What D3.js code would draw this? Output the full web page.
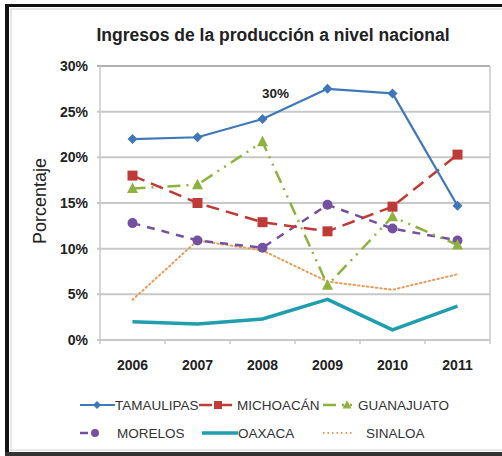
<!DOCTYPE html>
<html>
<head>
<meta charset="utf-8">
<script src="https://cdn.jsdelivr.net/npm/d3@7"></script>
<style>
  html, body { margin: 0; background: #fff; overflow: hidden; }
  svg { display: block; font-family: "Liberation Sans", Arial, sans-serif; }
</style>
</head>
<body>
<svg id="chart" width="502" height="456"></svg>
<script>
const years = ['2006', '2007', '2008', '2009', '2010', '2011'];
const yTicks = [0, 5, 10, 15, 20, 25, 30];

const tamaulipas = [22.0, 22.2, 24.2, 27.5, 27.0, 14.7];
const michoacan = [18.0, 15.0, 12.9, 11.9, 14.6, 20.3];
const guanajuato = [16.6, 17.0, 21.7, 6.0, 13.5, 10.4];
const morelos = [12.8, 10.9, 10.1, 14.8, 12.2, 10.9];
const oaxaca = [2.0, 1.75, 2.3, 4.45, 1.1, 3.7];
const sinaloa = [4.4, 10.9, 9.8, 6.4, 5.5, 7.2];

const annotation = { year: '2008', value: 30, text: '30%' };

const series = [
    { name: 'TAMAULIPAS', values: tamaulipas, color: '#3f78b8', width: 2.2, dash: null, marker: 'diamond' },
    { name: 'MICHOACÁN', values: michoacan, color: '#bf3b37', width: 2.5, dash: '13,7', marker: 'square' },
    { name: 'GUANAJUATO', values: guanajuato, color: '#8fb140', width: 2.5, dash: '13,6,2,6,2,6', marker: 'triangle' },
    { name: 'MORELOS', values: morelos, color: '#7451a0', width: 2.5, dash: '8,7', marker: 'circle' },
    { name: 'OAXACA', values: oaxaca, color: '#1f9eae', width: 3.5, dash: null, marker: null },
    { name: 'SINALOA', values: sinaloa, color: '#eb9a5a', width: 2, dash: '1.5,3', marker: null }
];

const svg = d3.select('#chart');

// frame
svg.append('rect').attr('x', 11).attr('y', 9).attr('width', 500).attr('height', 441)
    .attr('fill', 'none').attr('stroke', '#d0d0d0').attr('stroke-width', 1);
svg.append('line').attr('x1', 5).attr('x2', 502).attr('y1', 5.5).attr('y2', 5.5)
    .attr('stroke', '#111').attr('stroke-width', 3);
svg.append('line').attr('x1', 7).attr('x2', 7).attr('y1', 4).attr('y2', 456)
    .attr('stroke', '#111').attr('stroke-width', 4);
svg.append('line').attr('x1', 5).attr('x2', 502).attr('y1', 454).attr('y2', 454)
    .attr('stroke', '#333').attr('stroke-width', 4);

const margin = { left: 100, right: 490, top: 66, bottom: 340 };

const x = d3.scaleBand().domain(years).range([margin.left, margin.right]);
const y = d3.scaleLinear().domain([0, 30]).range([margin.bottom, margin.top]);

// title
svg.append('text').attr('x', 273).attr('y', 41).attr('text-anchor', 'middle')
    .attr('font-size', 17.5).attr('font-weight', 'bold').attr('fill', '#222')
    .text('Ingresos de la producción a nivel nacional');

// gridlines
svg.append('g').selectAll('line').data(yTicks).enter().append('line')
    .attr('x1', margin.left - 3).attr('x2', margin.right)
    .attr('y1', d => y(d)).attr('y2', d => y(d))
    .attr('stroke', d => d === 30 ? '#b0b0b0' : '#c8c8c8')
    .attr('stroke-width', 2);

// plot borders
svg.append('line').attr('x1', margin.left).attr('x2', margin.left)
    .attr('y1', margin.top).attr('y2', margin.bottom)
    .attr('stroke', '#c8c8c8').attr('stroke-width', 1.5);
svg.append('line').attr('x1', margin.right).attr('x2', margin.right)
    .attr('y1', margin.top).attr('y2', margin.bottom)
    .attr('stroke', '#c8c8c8').attr('stroke-width', 1.5);

// x ticks at band edges
const edges = years.map(d => x(d)).concat([margin.right]);
svg.append('g').selectAll('line').data(edges).enter().append('line')
    .attr('x1', d => d).attr('x2', d => d)
    .attr('y1', margin.bottom).attr('y2', margin.bottom + 4)
    .attr('stroke', '#c8c8c8').attr('stroke-width', 1.5);

// y labels
svg.append('g').selectAll('text').data(yTicks).enter().append('text')
    .attr('x', 88).attr('y', d => y(d) + 5).attr('text-anchor', 'end')
    .attr('font-size', 14).attr('font-weight', 'bold').attr('fill', '#222')
    .text(d => d + '%');

// x labels
svg.append('g').selectAll('text').data(years).enter().append('text')
    .attr('x', d => x(d) + x.bandwidth() / 2).attr('y', 370).attr('text-anchor', 'middle')
    .attr('font-size', 14).attr('font-weight', 'bold').attr('fill', '#222')
    .text(d => d);

// y axis title
svg.append('text').attr('transform', 'translate(46,201) rotate(-90)')
    .attr('text-anchor', 'middle').attr('font-size', 18).attr('fill', '#222')
    .text('Porcentaje');

// annotation
svg.append('text').attr('x', x(annotation.year) + x.bandwidth() / 2 + 13).attr('y', 98)
    .attr('text-anchor', 'middle').attr('font-size', 13.5).attr('font-weight', 'bold')
    .attr('fill', '#222').text(annotation.text);

function drawMarker(g, type, color, cx, cy, k) {
    k = k || 1;
    if (type === 'diamond') {
        g.append('path').attr('d', `M${cx},${cy - 5 * k}L${cx + 5 * k},${cy}L${cx},${cy + 5 * k}L${cx - 5 * k},${cy}Z`)
            .attr('fill', color);
    } else if (type === 'square') {
        g.append('rect').attr('x', cx - 5 * k).attr('y', cy - 5 * k).attr('width', 10 * k).attr('height', 10 * k)
            .attr('fill', color);
    } else if (type === 'triangle') {
        g.append('path').attr('d', `M${cx},${cy - 6 * k}L${cx + 5.5 * k},${cy + 4.5 * k}L${cx - 5.5 * k},${cy + 4.5 * k}Z`)
            .attr('fill', color);
    } else if (type === 'circle') {
        g.append('circle').attr('cx', cx).attr('cy', cy).attr('r', 5 * k).attr('fill', color);
    }
}

const line = d3.line()
    .x((d, i) => x(years[i]) + x.bandwidth() / 2)
    .y(d => y(d));

// draw back to front so Tamaulipas sits on top
series.slice().reverse().forEach(s => {
    const g = svg.append('g');
    g.append('path').datum(s.values).attr('d', line)
        .attr('fill', 'none').attr('stroke', s.color).attr('stroke-width', s.width)
        .attr('stroke-dasharray', s.dash).attr('stroke-linecap', s.name === 'SINALOA' ? 'round' : 'butt')
        .attr('stroke-linejoin', 'round');
    if (s.marker) {
        s.values.forEach((v, i) => drawMarker(g, s.marker, s.color, x(years[i]) + x.bandwidth() / 2, y(v)));
    }
});

// legend
const legendItems = [
    { s: series[0], x1: 80, x2: 115, tx: 115, y: 405, mx: 97 },
    { s: series[1], x1: 199, x2: 237, tx: 237, y: 405, mx: 218 },
    { s: series[2], x1: 323, x2: 355, tx: 358, y: 405, mx: 347 },
    { s: series[3], x1: 80, x2: 95, tx: 117, y: 433, mx: 95 },
    { s: series[4], x1: 202, x2: 238, tx: 238, y: 433 },
    { s: series[5], x1: 323, x2: 353, tx: 366, y: 433 }
];

legendItems.forEach(it => {
    const g = svg.append('g');
    g.append('line').attr('x1', it.x1).attr('x2', it.x2).attr('y1', it.y).attr('y2', it.y)
        .attr('stroke', it.s.color).attr('stroke-width', it.s.width)
        .attr('stroke-dasharray', it.s.dash);
    if (it.s.marker) drawMarker(g, it.s.marker, it.s.color, it.mx, it.y, 0.8);
    g.append('text').attr('x', it.tx).attr('y', it.y + 5)
        .attr('font-size', 13.5).attr('fill', '#333').text(it.s.name);
});
</script>
</body>
</html>
